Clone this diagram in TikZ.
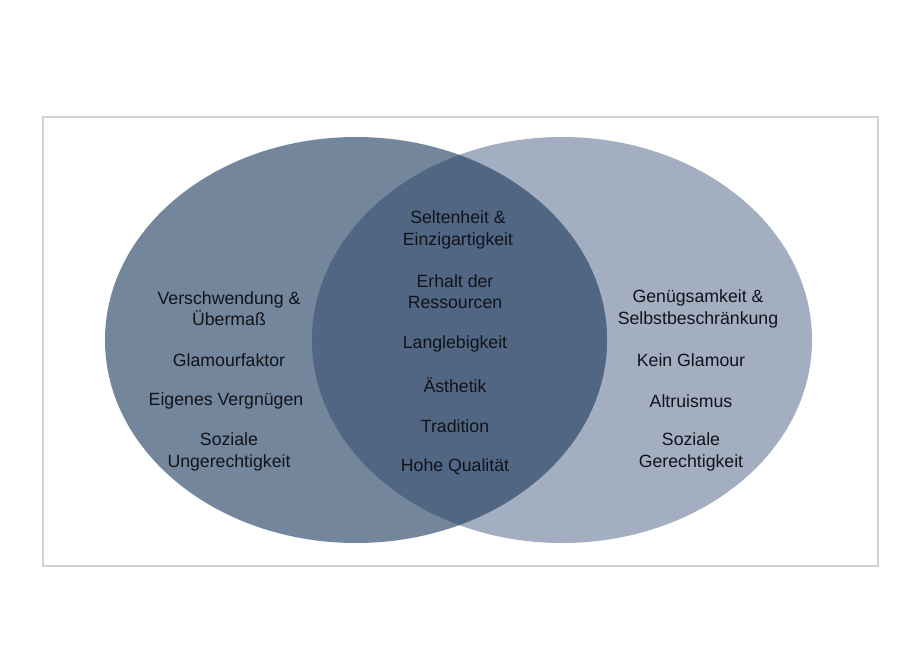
\documentclass[tikz,border=0pt]{standalone}
\usepackage{fontspec}
\setmainfont{Liberation Sans}
\definecolor{leftc}{HTML}{74869C}
\definecolor{rightc}{HTML}{A4AEC1}
\definecolor{midc}{HTML}{506683}
\definecolor{framec}{HTML}{D2D2D2}
\definecolor{txt}{HTML}{11131A}
\begin{document}
\begin{tikzpicture}[x=1pt,y=-1pt,
  lbl/.style={align=center,text=txt,font=\fontsize{17.7}{21.2}\selectfont,inner sep=0pt}]
\useasboundingbox (0,0) rectangle (923,661);
\fill[white] (0,0) rectangle (923,661);
\draw[framec,line width=1.6pt] (43,117) rectangle (878,566);
\fill[rightc] (562,340) ellipse [x radius=250, y radius=203];
\fill[leftc] (356,340) ellipse [x radius=251, y radius=203];
\begin{scope}
  \clip (562,340) ellipse [x radius=250, y radius=203];
  \fill[midc] (356,340) ellipse [x radius=251, y radius=203];
\end{scope}
% left
\node[lbl] (l1) at (229,309) {Verschwendung \&\\Übermaß};
\node[lbl] (l2) at (229,360) {Glamourfaktor};
\node[lbl] (l3) at (226,401) {Eigenes Vergnügen};
\node[lbl] (l4) at (229,452) {Soziale\\Ungerechtigkeit};
% center
\node[lbl] (c1) at (458,230) {Seltenheit \&\\Einzigartigkeit};
\node[lbl] (c2) at (455,292) {Erhalt der\\Ressourcen};
\node[lbl] (c3) at (455,344) {Langlebigkeit};
\node[lbl] (c4) at (455,385) {Ästhetik};
\node[lbl] (c5) at (455,426) {Tradition};
\node[lbl] (c6) at (455,467) {Hohe Qualität};
% right
\node[lbl] (r1) at (698,309) {Genügsamkeit \&\\Selbstbeschränkung};
\node[lbl] (r2) at (691,360) {Kein Glamour};
\node[lbl] (r3) at (691,401) {Altruismus};
\node[lbl] (r4) at (691,452) {Soziale\\Gerechtigkeit};
\end{tikzpicture}
\end{document}
